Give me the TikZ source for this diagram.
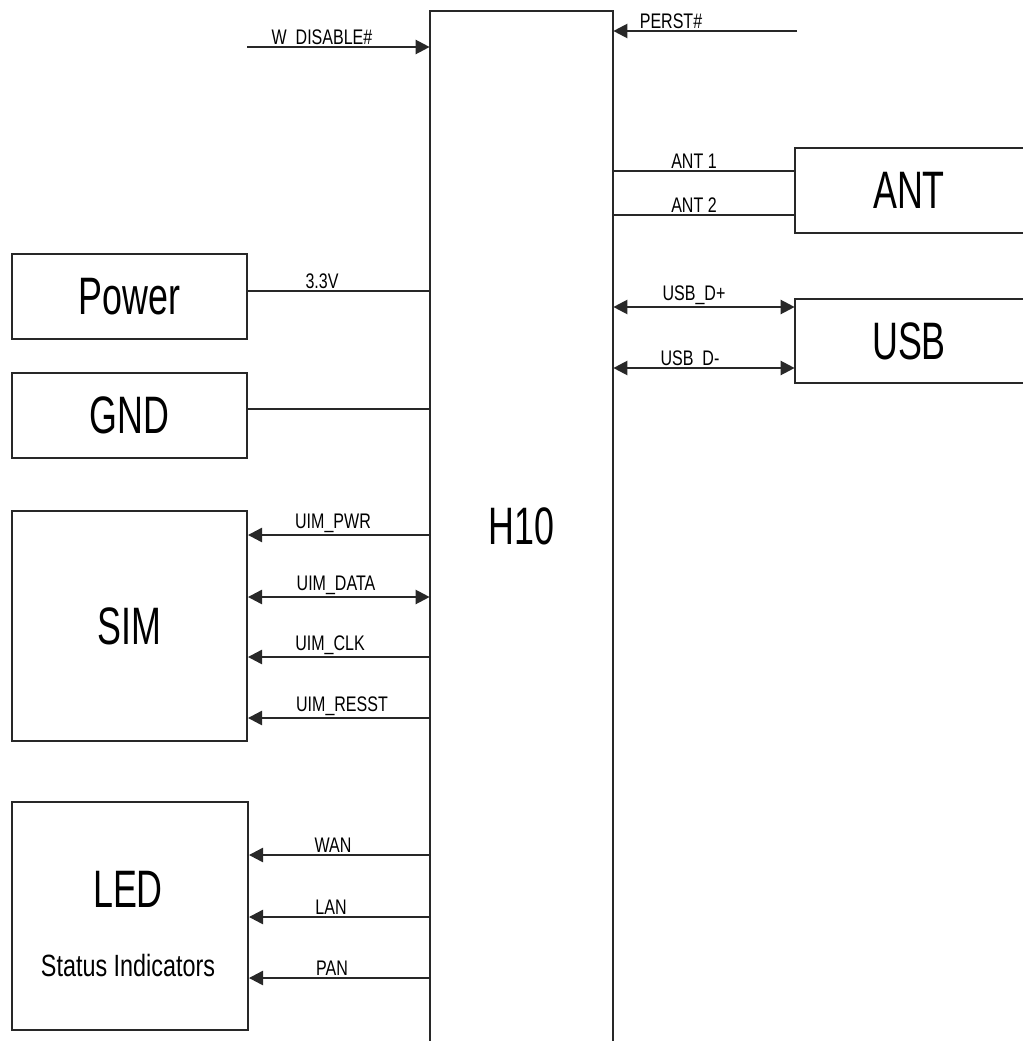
\documentclass[tikz,border=0pt]{standalone}
\usepackage{fontspec}
\setmainfont{Liberation Sans}
\newfontfamily\sigfont[FakeStretch=0.76]{Liberation Sans}
\newfontfamily\blkfont[FakeStretch=0.68]{Liberation Sans}
\usetikzlibrary{arrows.meta}
\definecolor{ink}{RGB}{40,40,40}

\tikzset{
  blk/.style={draw=ink, line width=1.1pt, inner sep=0pt, font=\blkfont\fontsize{30}{36}\selectfont},
  openblk/.style={inner sep=0pt, font=\blkfont\fontsize{30}{36}\selectfont},
  sig/.style={anchor=south, inner sep=1pt, font=\sigfont\fontsize{12}{14}\selectfont},
  wire/.style={draw=ink, line width=1.3pt, >={Triangle[length=8pt,width=8pt]}},
}

\begin{document}
\begin{tikzpicture}[x=0.02cm, y=-0.02cm]
\useasboundingbox (0,0) rectangle (1023,1041);

% main module, open at the bottom
\node [openblk, minimum width=3.66cm, minimum height=20.6cm] (h10) at (521.5,526) {H10};
\draw [ink, line width=1.1pt] (h10.south west) |- (h10.north east) -- (h10.south east);

% left side blocks
\node [blk, minimum width=4.7cm, minimum height=1.7cm] (power) at (129.5,296.5) {Power};
\node [blk, minimum width=4.7cm, minimum height=1.7cm] (gnd) at (129.5,415.5) {GND};
\node [blk, minimum width=4.7cm, minimum height=4.6cm] (sim) at (129.5,626) {SIM};
\node [blk, minimum width=4.72cm, minimum height=4.56cm] (led) at (130,916) {};
\node [openblk] (ledname) at (128,889) {LED};
\node [sig, anchor=center, font=\sigfont\fontsize{17.5}{20}\selectfont] (ledsub) at (128,965) {Status Indicators};

% right side blocks, cut at the page edge
\node [openblk, minimum width=4.56cm, minimum height=1.7cm] (ant) at (909,190.5) {ANT};
\draw [ink, line width=1.1pt] (ant.north east) -- (ant.north west) -- (ant.south west) -- (ant.south east);
\node [openblk, minimum width=4.56cm, minimum height=1.68cm] (usb) at (909,341) {USB};
\draw [ink, line width=1.1pt] (usb.north east) -- (usb.north west) -- (usb.south west) -- (usb.south east);

% signal names
\node [sig] (wdis) at (322,47) {W\ \ DISABLE\#};
\node [sig] (perst) at (671,31) {PERST\#};
\node [sig] (ant1) at (694,171) {ANT 1};
\node [sig] (ant2) at (694,215) {ANT 2};
\node [sig] (usbp) at (694,307) {USB\_D+};
\node [sig] (usbm) at (690,368) {USB\ \ D-};
\node [sig] (vcc) at (322,291) {3.3V};
\coordinate (gndpin) at (338,409);
\node [sig] (uimpwr) at (333,535) {UIM\_PWR};
\node [sig] (uimdata) at (336,597) {UIM\_DATA};
\node [sig] (uimclk) at (330,657) {UIM\_CLK};
\node [sig] (uimrst) at (342,718) {UIM\_RESST};
\node [sig] (wan) at (333,855) {WAN};
\node [sig] (lan) at (331,917) {LAN};
\node [sig] (pan) at (332,978) {PAN};

\coordinate (wdisin) at (247,47);
\coordinate (perstin) at (797,31);

% connections
\draw [wire, ->] (wdisin) -- (h10.west |- wdisin);
\draw [wire, ->] (perstin) -- (h10.east |- perstin);
\draw [wire] (h10.east |- ant1.south) -- (ant.west |- ant1.south);
\draw [wire] (h10.east |- ant2.south) -- (ant.west |- ant2.south);
\draw [wire, <->] (h10.east |- usbp.south) -- (usb.west |- usbp.south);
\draw [wire, <->] (h10.east |- usbm.south) -- (usb.west |- usbm.south);
\draw [wire] (power.east |- vcc.south) -- (h10.west |- vcc.south);
\draw [wire] (gnd.east |- gndpin) -- (h10.west |- gndpin);
\draw [wire, <-] (sim.east |- uimpwr.south) -- (h10.west |- uimpwr.south);
\draw [wire, <->] (sim.east |- uimdata.south) -- (h10.west |- uimdata.south);
\draw [wire, <-] (sim.east |- uimclk.south) -- (h10.west |- uimclk.south);
\draw [wire, <-] (sim.east |- uimrst.south) -- (h10.west |- uimrst.south);
\draw [wire, <-] (led.east |- wan.south) -- (h10.west |- wan.south);
\draw [wire, <-] (led.east |- lan.south) -- (h10.west |- lan.south);
\draw [wire, <-] (led.east |- pan.south) -- (h10.west |- pan.south);

\end{tikzpicture}
\end{document}
